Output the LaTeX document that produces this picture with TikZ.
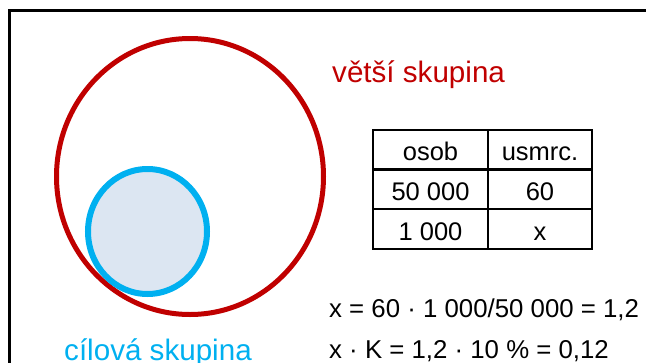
\documentclass[tikz,border=0pt]{standalone}
\usepackage{fontspec}
\setmainfont{Liberation Sans}
\usetikzlibrary{shapes.geometric}
\definecolor{cred}{HTML}{C00000}
\definecolor{cblue}{HTML}{00B0F0}
\definecolor{cfill}{HTML}{DCE6F2}
\tikzset{
  frame/.style={line width=3pt, black},
  bigset/.style={draw=cred, line width=5pt},
  smallset/.style={draw=cblue, fill=cfill, line width=6pt},
  cellA/.style={draw, line width=2pt, minimum width=115pt, minimum height=40pt, inner sep=0pt, text height=22pt, text depth=0pt, font=\fontsize{25.5}{30}\selectfont},
  cellB/.style={cellA, minimum width=104pt},
  eq/.style={anchor=base west, inner sep=0pt, font=\fontsize{25.8}{30}\selectfont},
  lbl/.style={anchor=base west, inner sep=0pt, font=\fontsize{29.6}{34}\selectfont},
}
\begin{document}
\begin{tikzpicture}[x=1pt,y=-1pt]
\useasboundingbox (0,0) rectangle (646,362);
\clip (0,0) rectangle (646,362);
\draw[frame] (9,380) -- (9,10) -- (660,10);
\node[bigset, ellipse, minimum width=267pt, minimum height=276pt, inner sep=0pt] (big) at (190,176.5) {};
\node[smallset, ellipse, minimum width=119pt, minimum height=125pt, inner sep=0pt] (small) at (147.5,231.5) {};
\node[lbl, text=cred] (bigl) at (332,82) {větší skupina};
\node[lbl, text=cblue] (smalll) at (64,360) {cílová skupina};
\node[cellA] (c11) at (430.5,149.5) {osob};
\node[cellB] (c12) at (540,149.5) {usmrc.};
\node[cellA] (c21) at (430.5,189) {50 000};
\node[cellB] (c22) at (540,189) {60};
\node[cellA] (c31) at (430.5,229) {1 000};
\node[cellB] (c32) at (540,229) {x};
\node[eq] (eq1) at (329,317) {x = 60 · 1 000/50 000 = 1,2};
\node[eq] (eq2) at (329,358) {x · K = 1,2 · 10 \% = 0,12};
\end{tikzpicture}
\end{document}
